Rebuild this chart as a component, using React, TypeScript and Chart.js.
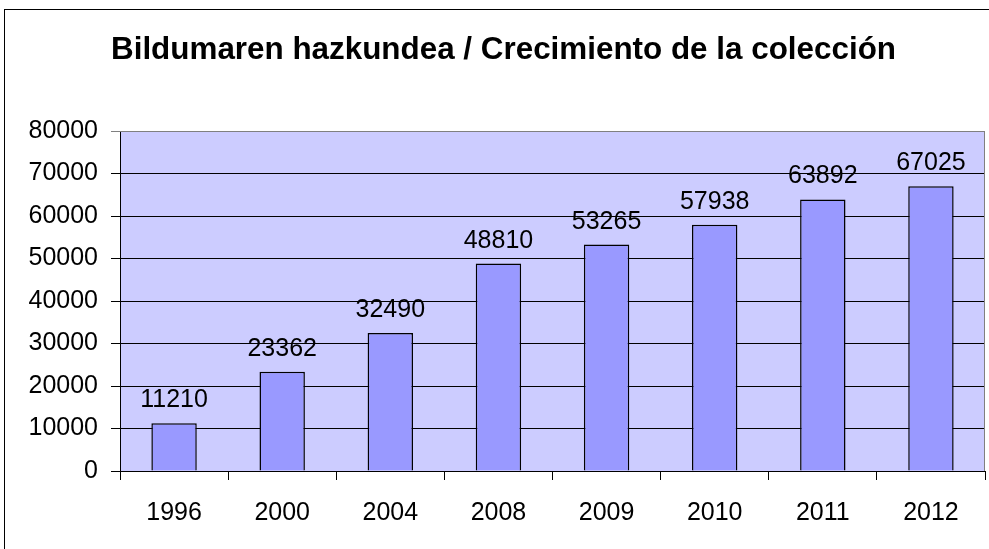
import React, { useEffect, useRef } from "react";
import { Chart, registerables } from "chart.js";

Chart.register(...registerables);

const TITLE = "Bildumaren hazkundea / Crecimiento de la colección";
const categories = ["1996", "2000", "2004", "2008", "2009", "2010", "2011", "2012"];
const values = [11210, 23362, 32490, 48810, 53265, 57938, 63892, 67025];
const yMin = 0;
const yMax = 80000;
const yStep = 10000;

const FONT = "'Liberation Sans', Arial, Helvetica, sans-serif";

const decorPlugin = {
  id: "decor",
  beforeDraw(chart: any) {
    const { ctx, chartArea } = chart;
    ctx.save();
    ctx.fillStyle = "#ffffff";
    ctx.fillRect(0, 0, chart.width, chart.height);
    ctx.strokeStyle = "#000000";
    ctx.lineWidth = 1;
    ctx.strokeRect(4.5, 9.5, 2000, 2000);
    ctx.fillStyle = "#CCCCFF";
    ctx.fillRect(chartArea.left, chartArea.top, chartArea.right - chartArea.left, chartArea.bottom - chartArea.top);
    ctx.fillStyle = "#000000";
    ctx.font = `bold 31.4px ${FONT}`;
    ctx.textAlign = "center";
    ctx.textBaseline = "alphabetic";
    ctx.fillText(TITLE, 503.5, 58.5);
    ctx.restore();
  },
  beforeDatasetsDraw(chart: any) {
    const { ctx, chartArea } = chart;
    ctx.save();
    ctx.strokeStyle = "#808080";
    ctx.lineWidth = 1;
    ctx.beginPath();
    ctx.moveTo(chartArea.left, chartArea.top + 0.5);
    ctx.lineTo(chartArea.right - 0.5, chartArea.top + 0.5);
    ctx.lineTo(chartArea.right - 0.5, chartArea.bottom);
    ctx.stroke();
    ctx.restore();
  },
  afterDatasetsDraw(chart: any) {
    const { ctx } = chart;
    const meta = chart.getDatasetMeta(0);
    ctx.save();
    ctx.fillStyle = "#000000";
    ctx.font = `25px ${FONT}`;
    ctx.textAlign = "center";
    ctx.textBaseline = "alphabetic";
    meta.data.forEach((bar: any, i: number) => {
      ctx.fillText(String(values[i]), bar.x, bar.y - 16);
    });
    ctx.restore();
  },
};

export default function App() {
  const ref = useRef<HTMLCanvasElement | null>(null);
  useEffect(() => {
    if (!ref.current) return;
    const chart = new Chart(ref.current, {
      type: "bar",
      data: {
        labels: categories,
        datasets: [
          {
            data: values,
            backgroundColor: "#9999FF",
            borderColor: "#000000",
            borderWidth: 1.5,
            barPercentage: 0.42,
            categoryPercentage: 1,
          },
        ],
      },
      options: {
        animation: false,
        responsive: false,
        devicePixelRatio: 1,
        layout: { padding: { top: 131, right: 4, left: 0, bottom: 0 } },
        plugins: {
          legend: { display: false },
          title: { display: false },
          tooltip: { enabled: false },
        },
        scales: {
          x: {
            grid: {
              offset: true,
              drawOnChartArea: false,
              drawTicks: true,
              tickLength: 9,
              color: "#000000",
            },
            border: { display: true, color: "#000000", width: 1 },
            ticks: {
              color: "#000000",
              font: { family: FONT, size: 25 },
              padding: 18,
            },
            afterFit(scale: any) {
              scale.height = 78;
            },
          },
          y: {
            min: yMin,
            max: yMax,
            grid: {
              color: (c: any) => (c.tick && c.tick.value === yMax ? "#808080" : "#000000"),
              tickLength: 9,
              lineWidth: 1,
            },
            border: { display: true, color: "#000000", width: 1 },
            ticks: {
              stepSize: yStep,
              color: "#000000",
              font: { family: FONT, size: 25 },
              padding: 13,
              callback: (v: any) => String(v),
            },
            afterFit(scale: any) {
              scale.width = 120;
            },
          },
        },
      },
      plugins: [decorPlugin],
    });
    return () => chart.destroy();
  }, []);
  return (
    <div style={{ position: "fixed", left: 0, top: 0, width: 989, height: 549, background: "#fff" }}>
      <canvas ref={ref} width={989} height={549} style={{ display: "block", width: 989, height: 549 }} />
    </div>
  );
}
